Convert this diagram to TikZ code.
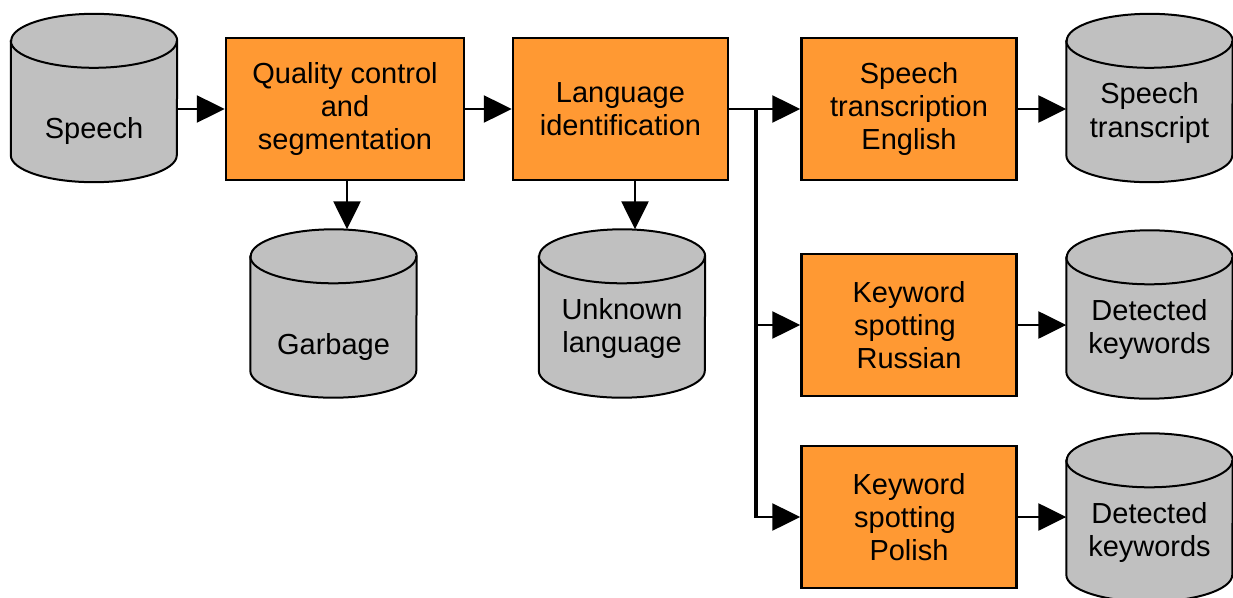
\documentclass[tikz,border=0pt]{standalone}
\usepackage{fontspec}
\setmainfont{Liberation Sans}
\usetikzlibrary{arrows.meta}
\definecolor{procorange}{HTML}{FF9933}
\definecolor{storegray}{HTML}{C0C0C0}
\newcommand\storeshape[1]{%
  \filldraw[line width=2pt,fill=storegray] ([yshift=-27pt]#1.north west) -- ([yshift=27pt]#1.south west)
    arc[start angle=180,end angle=360,x radius=83pt,y radius=27pt] -- ([yshift=-27pt]#1.north east)
    arc[start angle=0,end angle=180,x radius=83pt,y radius=27pt] -- cycle;
  \draw[line width=2pt] ([yshift=-27pt]#1.north west) arc[start angle=180,end angle=360,x radius=83pt,y radius=27pt];}
\begin{document}
\begin{tikzpicture}[x=1pt,y=-1pt,font=\fontsize{29pt}{33pt}\selectfont,
  proc/.style={draw,line width=2.5pt,fill=procorange,minimum width=215pt,minimum height=142pt,align=center,inner sep=0pt},
  store/.style={minimum width=166pt,minimum height=168pt,inner sep=0pt},
  lbl/.style={align=center,inner sep=0pt},
  arr/.style={line width=2.5pt,-{Triangle[length=28pt,width=27pt]}}]
\useasboundingbox (0,0) rectangle (1233,597);
\node[store] (speech) at (94,98) {};
\storeshape{speech}
\node[lbl] (speechtxt) at ([yshift=-33pt]speech.center) {Speech};
\node[proc,minimum width=238pt] (qc) at (345,109) {Quality control\\and\\segmentation};
\node[proc] (lid) at (620.5,109) {Language\\identification};
\node[store] (garbage) at (333.5,313.5) {};
\storeshape{garbage}
\node[lbl] (garbagetxt) at ([yshift=-33pt]garbage.center) {Garbage};
\node[store] (unknown) at (622,313.5) {};
\storeshape{unknown}
\node[lbl] (unknowntxt) at ([yshift=-15pt]unknown.center) {Unknown\\language};
\node[proc] (ste) at (909,109) {Speech\\transcription\\English};
\node[proc] (kwru) at (909,325) {Keyword\\spotting\kern8pt\\Russian};
\node[proc] (kwpl) at (909,517) {Keyword\\spotting\kern8pt\\Polish};
\node[store] (trans) at (1149.5,98) {};
\storeshape{trans}
\node[lbl] (transtxt) at ([yshift=-15pt]trans.center) {Speech\\transcript};
\node[store] (kwdru) at (1149.5,314.5) {};
\storeshape{kwdru}
\node[lbl] (kwdrutxt) at ([yshift=-15pt]kwdru.center) {Detected\\keywords};
\node[store] (kwdpl) at (1149.5,517.5) {};
\storeshape{kwdpl}
\node[lbl] (kwdpltxt) at ([yshift=-15pt]kwdpl.center) {Detected\\keywords};
\coordinate (fork) at ([xshift=27pt]lid.east);
\draw[arr] (speech.east |- qc.west) -- (qc.west);
\draw[arr] (qc.east) -- (lid.west);
\draw[arr] ([xshift=2pt]qc.south) -- ([xshift=2pt]qc.south |- garbage.north);
\draw[arr] ([xshift=14.5pt]lid.south) -- ([xshift=14.5pt]lid.south |- unknown.north);
\draw[line width=2.5pt] (lid.east) -- (fork);
\draw[line width=4pt] (fork) -- (fork |- kwpl.west);
\draw[arr] (fork) -- (ste.west);
\draw[arr] (fork |- kwru.west) -- (kwru.west);
\draw[arr] ([xshift=-2pt]fork |- kwpl.west) -- (kwpl.west);
\draw[arr] (ste.east) -- (ste.east -| trans.west);
\draw[arr] (kwru.east) -- (kwru.east -| kwdru.west);
\draw[arr] (kwpl.east) -- (kwpl.east -| kwdpl.west);
\end{tikzpicture}
\end{document}
